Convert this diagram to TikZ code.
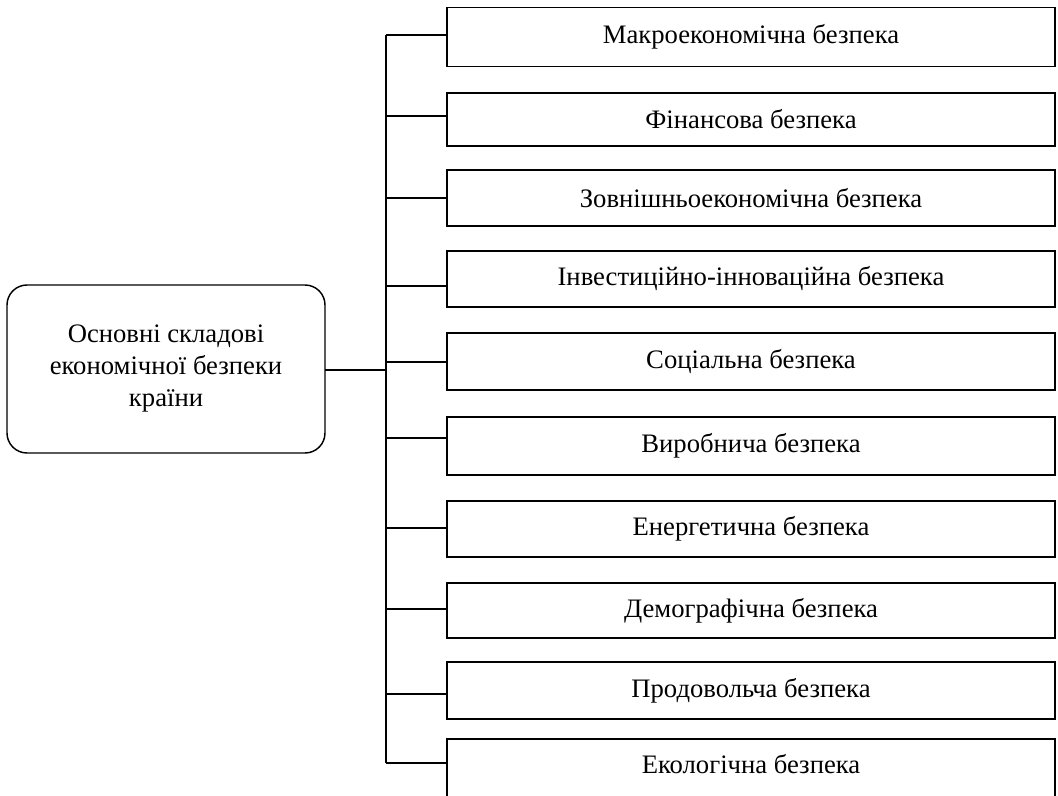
\documentclass[tikz,border=0pt]{standalone}
\usepackage{fontspec}
\setmainfont{Liberation Serif}
\begin{document}
\begin{tikzpicture}[x=0.75pt,y=-0.75pt,
  compbox/.style={draw=black,line width=1.3pt,rectangle,inner sep=0pt,outer sep=0pt,
    minimum width=456pt,font=\fontsize{20}{24}\selectfont},
  mainbox/.style={draw=black,line width=1.1pt,rectangle,rounded corners=15pt,inner sep=0pt,outer sep=0pt,
    minimum width=238.5pt,minimum height=126pt,align=center,font=\fontsize{20}{24}\selectfont},
  conn/.style={draw=black,line width=1pt},
  txt/.style={inner sep=0pt,font=\fontsize{20}{24}\selectfont}]
\clip (0,0) rectangle (1058,796);
\fill[white] (0,0) rectangle (1058,796);
\node[mainbox] (m) at (166,369) {Основні складові\\економічної безпеки\\країни};
\node[compbox,minimum height=44.25pt] (b1) at (751,37) {Макроекономічна безпека};
\node[compbox,minimum height=39.75pt] (b2) at (751,119.5) {Фінансова безпека};
\node[compbox,minimum height=42pt] (b3) at (751,198) {Зовнішньоекономічна безпека};
\node[compbox,minimum height=42pt] (b4) at (751,279) {Інвестиційно-інноваційна безпека};
\node[compbox,minimum height=42.75pt] (b5) at (751,361.5) {Соціальна безпека};
\node[compbox,minimum height=43.5pt] (b6) at (751,446) {Виробнича безпека};
\node[compbox,minimum height=42pt] (b7) at (751,529) {Енергетична безпека};
\node[compbox,minimum height=41.25pt] (b8) at (751,610.5) {Демографічна безпека};
\node[compbox,minimum height=42.75pt] (b9) at (751,690.5) {Продовольча безпека};
\node[compbox,minimum height=53.25pt] (b10) at (751,774.5) {};
\node[txt] (t10) at (751,764) {Екологічна безпека};
\coordinate (j1) at (386,35);
\coordinate (j2) at (386,116);
\coordinate (j3) at (386,198);
\coordinate (j4) at (386,286);
\coordinate (j5) at (386,362);
\coordinate (j6) at (386,438);
\coordinate (j7) at (386,528);
\coordinate (j8) at (386,609);
\coordinate (j9) at (386,694);
\coordinate (j10) at (386,763);
\coordinate (jm) at (386,370);
\draw[conn] (j1) -- (j10);
\draw[conn] (m.east |- jm) -- (jm);
\foreach \i in {1,...,10} {
  \draw[conn] (j\i) -- (j\i -| b\i.west);
}
\end{tikzpicture}
\end{document}
